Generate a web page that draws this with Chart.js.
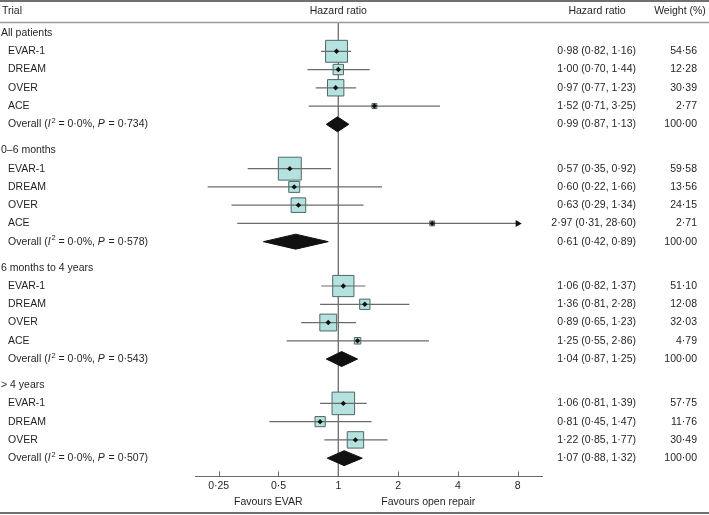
<!DOCTYPE html>
<html>
<head>
<meta charset="utf-8">
<script src="https://cdn.jsdelivr.net/npm/chart.js@4.4.1/dist/chart.umd.min.js"></script>
<style>
  body { margin: 0; background: #fff; }
</style>
</head>
<body>
<canvas id="forest" width="709" height="515"></canvas>
<script>
// data
var groupNames = ['All patients', '0\u20136 months', '6 months to 4 years', '> 4 years'];
var trialsFour = ['EVAR-1', 'DREAM', 'OVER', 'ACE'];
var trialsThree = ['EVAR-1', 'DREAM', 'OVER'];

var allHr = [0.98, 1.00, 0.97, 1.52];
var allLo = [0.82, 0.70, 0.77, 0.71];
var allHi = [1.16, 1.44, 1.23, 3.25];
var allWt = [54.56, 12.28, 30.39, 2.77];
var allOverall = [0.99, 0.87, 1.13];

var earlyHr = [0.57, 0.60, 0.63, 2.97];
var earlyLo = [0.35, 0.22, 0.29, 0.31];
var earlyHi = [0.92, 1.66, 1.34, 28.60];
var earlyWt = [59.58, 13.56, 24.15, 2.71];
var earlyOverall = [0.61, 0.42, 0.89];

var midHr = [1.06, 1.36, 0.89, 1.25];
var midLo = [0.82, 0.81, 0.65, 0.55];
var midHi = [1.37, 2.28, 1.23, 2.86];
var midWt = [51.10, 12.08, 32.03, 4.79];
var midOverall = [1.04, 0.87, 1.25];

var lateHr = [1.06, 0.81, 1.22];
var lateLo = [0.81, 0.45, 0.85];
var lateHi = [1.39, 1.47, 1.77];
var lateWt = [57.75, 11.76, 30.49];
var lateOverall = [1.07, 0.88, 1.32];

var i2Values = ['0\u00b70%', '0\u00b70%', '0\u00b70%', '0\u00b70%'];
var pValues = ['0\u00b7734', '0\u00b7578', '0\u00b7543', '0\u00b7507'];
var xTicks = [0.25, 0.5, 1, 2, 4, 8];
var xMin = 0.19, xMax = 10.6;

var groups = [
  {trials: trialsFour, hr: allHr, lo: allLo, hi: allHi, wt: allWt, overall: allOverall},
  {trials: trialsFour, hr: earlyHr, lo: earlyLo, hi: earlyHi, wt: earlyWt, overall: earlyOverall},
  {trials: trialsFour, hr: midHr, lo: midLo, hi: midHi, wt: midWt, overall: midOverall},
  {trials: trialsThree, hr: lateHr, lo: lateLo, hi: lateHi, wt: lateWt, overall: lateOverall}
];

var fmt = function(v) { return v.toFixed(2).replace('.', '\u00b7'); };
var FONT = '"Liberation Sans", Arial, Helvetica, sans-serif';
var FS = 10.5;
var TXT = '#231f20';
var LINE = '#6b6b6b';

var groupStep = 6.43;
var cap = xTicks[xTicks.length - 1];
var rows = [];
var boxData = [], dotData = [], arrowData = [];
var datasets = [];

groups.forEach(function(g, gi) {
  var base = gi * groupStep;
  rows.push({y: base, head: groupNames[gi]});
  g.trials.forEach(function(t, i) {
    var y = base + 1 + i;
    var hiShown = Math.min(g.hi[i], cap);
    datasets.push({
      data: [{x: g.lo[i], y: y}, {x: hiShown, y: y}],
      showLine: true, pointRadius: 0, borderColor: LINE, borderWidth: 1.2, order: 3
    });
    if (g.hi[i] > cap) arrowData.push({x: cap, y: y});
    boxData.push({x: g.hr[i], y: y, w: g.wt[i]});
    dotData.push({x: g.hr[i], y: y});
    rows.push({y: y, label: t, ci: fmt(g.hr[i]) + ' (' + fmt(g.lo[i]) + ', ' + fmt(g.hi[i]) + ')', wt: fmt(g.wt[i])});
  });
  var oy = base + 1 + g.trials.length;
  var o = g.overall;
  datasets.push({
    data: [{x: o[1], y: oy}, {x: o[0], y: oy - 0.41}, {x: o[2], y: oy}, {x: o[0], y: oy + 0.41}, {x: o[1], y: oy}],
    showLine: true, fill: 'shape', backgroundColor: '#111', borderColor: '#111', borderWidth: 1,
    pointRadius: 0, tension: 0, order: 2
  });
  rows.push({y: oy, overall: gi, ci: fmt(o[0]) + ' (' + fmt(o[1]) + ', ' + fmt(o[2]) + ')', wt: fmt(100)});
});

var yMin = -0.55;
var yMax = rows[rows.length - 1].y + 1;

datasets.push({
  data: [{x: 1, y: yMin}, {x: 1, y: yMax}],
  showLine: true, pointRadius: 0, borderColor: LINE, borderWidth: 1.3, order: 6
});
datasets.push({
  data: boxData, pointStyle: 'rect',
  pointRadius: function(ctx) { return ctx.raw ? 2.1 * Math.sqrt(ctx.raw.w) : 0; },
  backgroundColor: '#b4e2de', borderColor: '#4f6767', borderWidth: 1, order: 4
});
datasets.push({
  data: dotData, pointStyle: 'rectRot', pointRadius: 2.7,
  backgroundColor: '#111', borderColor: '#111', borderWidth: 0, order: 1
});
datasets.push({
  data: arrowData, pointStyle: 'triangle', rotation: 90, pointRadius: 4,
  backgroundColor: '#111', borderColor: '#111', borderWidth: 0, order: 1
});

var textPlugin = {
  id: 'forestText',
  afterDraw: function(chart) {
    var ctx = chart.ctx;
    var ys = chart.scales.y, xs = chart.scales.x;
    var area = chart.chartArea;
    var W = chart.width;
    ctx.save();

    // rules
    ctx.strokeStyle = '#707070';
    ctx.lineWidth = 2;
    ctx.beginPath(); ctx.moveTo(0, 1); ctx.lineTo(W, 1); ctx.stroke();
    ctx.beginPath(); ctx.moveTo(0, 513); ctx.lineTo(W, 513); ctx.stroke();
    ctx.strokeStyle = '#9a9a9a';
    ctx.lineWidth = 1.5;
    ctx.beginPath(); ctx.moveTo(0, area.top - 0.5); ctx.lineTo(W, area.top - 0.5); ctx.stroke();

    // upward tick marks
    ctx.strokeStyle = LINE;
    ctx.lineWidth = 1;
    xTicks.forEach(function(v) {
      var px = Math.round(xs.getPixelForValue(v)) + 0.5;
      ctx.beginPath(); ctx.moveTo(px, area.bottom); ctx.lineTo(px, area.bottom - 5); ctx.stroke();
    });

    ctx.fillStyle = TXT;
    ctx.textBaseline = 'middle';
    var reg = FS + 'px ' + FONT;
    var ital = 'italic ' + FS + 'px ' + FONT;
    var sup = '7.5px ' + FONT;
    ctx.font = reg;

    // headers
    var hy = 11;
    ctx.textAlign = 'left';
    ctx.fillText('Trial', 2, hy);
    ctx.textAlign = 'center';
    ctx.fillText('Hazard ratio', xs.getPixelForValue(1), hy);
    ctx.fillText('Hazard ratio', 597, hy);
    ctx.fillText('Weight (%)', 680, hy);

    rows.forEach(function(r) {
      var py = ys.getPixelForValue(r.y);
      ctx.font = reg;
      if (r.head !== undefined) {
        ctx.textAlign = 'left';
        ctx.fillText(r.head, 1, py);
        return;
      }
      if (r.label) {
        ctx.textAlign = 'left';
        ctx.fillText(r.label, 8, py);
      } else {
        var runs = [
          {t: 'Overall (', f: reg},
          {t: 'I', f: ital},
          {t: '2', f: sup, dy: -3.5},
          {t: ' = ' + i2Values[r.overall] + ', ', f: reg},
          {t: 'P', f: ital},
          {t: ' = ' + pValues[r.overall] + ')', f: reg}
        ];
        var x = 8;
        ctx.textAlign = 'left';
        runs.forEach(function(run) {
          ctx.font = run.f;
          ctx.fillText(run.t, x, py + (run.dy || 0));
          x += ctx.measureText(run.t).width + (run.f === ital ? 0.8 : 0);
        });
        ctx.font = reg;
      }
      ctx.textAlign = 'right';
      ctx.fillText(r.ci, 636, py);
      ctx.fillText(r.wt, 697, py);
    });

    // favours labels
    ctx.textAlign = 'center';
    ctx.fillText('Favours EVAR', xs.getPixelForValue(1) - 70, 502);
    ctx.fillText('Favours open repair', xs.getPixelForValue(1) + 90, 502);
    ctx.restore();
  }
};

new Chart(document.getElementById('forest'), {
  type: 'scatter',
  data: {datasets: datasets},
  options: {
    responsive: false,
    animation: false,
    devicePixelRatio: 1,
    layout: {padding: {left: 195, right: 167, top: 23, bottom: 20}},
    plugins: {legend: {display: false}, tooltip: {enabled: false}},
    elements: {line: {tension: 0}},
    scales: {
      x: {
        type: 'logarithmic',
        min: xMin,
        max: xMax,
        afterBuildTicks: function(s) { s.ticks = xTicks.map(function(v) { return {value: v}; }); },
        ticks: {
          autoSkip: false, maxRotation: 0, padding: 3, color: TXT,
          font: {family: FONT, size: FS},
          callback: function(v) { return String(v).replace('.', '\u00b7'); }
        },
        grid: {display: true, drawOnChartArea: false, drawTicks: false},
        border: {display: true, color: LINE, width: 1}
      },
      y: {
        display: false,
        reverse: true,
        min: yMin,
        max: yMax
      }
    }
  },
  plugins: [textPlugin]
});
</script>
</body>
</html>
